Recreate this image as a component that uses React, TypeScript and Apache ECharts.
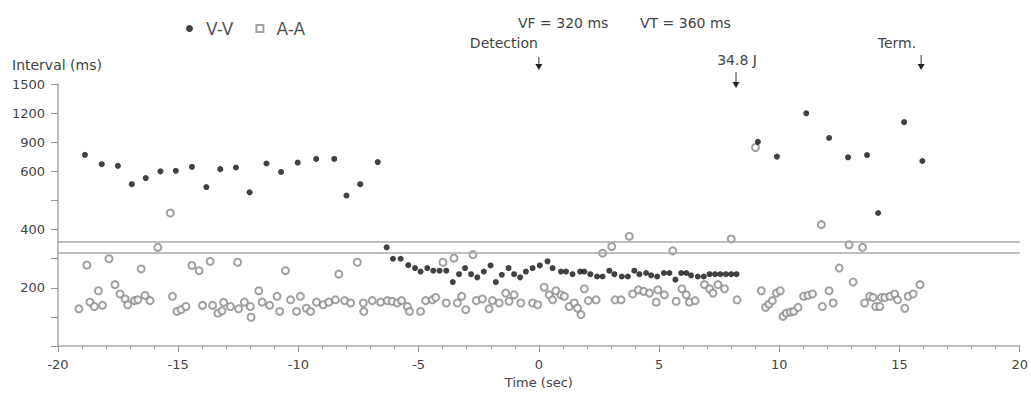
import React, { useEffect, useRef } from "react";
import * as echarts from "echarts";

// ---- Data ----
const vvTimes = [
  -18.88, -18.18, -17.51, -16.93, -16.35, -15.74, -15.1, -14.43, -13.83, -13.25,
  -12.6, -12.03, -11.33, -10.72, -10.03, -9.26, -8.51, -8.0, -7.43, -6.7,
  -6.33, -6.07, -5.75, -5.43, -5.15, -4.92, -4.64, -4.39, -4.13, -3.85,
  -3.58, -3.32, -3.07, -2.82, -2.56, -2.29, -2.01, -1.79, -1.54, -1.26,
  -1.03, -0.78, -0.54, -0.26, 0.04, 0.36, 0.57, 0.92, 1.13, 1.4,
  1.72, 1.89, 2.14, 2.42, 2.65, 2.93, 3.14, 3.45, 3.7, 3.97,
  4.18, 4.46, 4.67, 4.92, 5.2, 5.43, 5.68, 5.92, 6.13, 6.33,
  6.61, 6.86, 7.1, 7.33, 7.55, 7.78, 8.0, 8.22, 9.11, 9.9,
  11.12, 12.07, 12.86, 13.65, 14.11, 15.19, 15.95,
];
const vvValues = [
  770, 674, 657, 556, 577, 600, 606, 646, 546, 623,
  640, 528, 681, 598, 690, 728, 728, 517, 556, 696,
  339, 300, 300, 278, 268, 256, 268, 259, 259, 259,
  220, 247, 268, 247, 236, 256, 277, 220, 245, 268,
  247, 236, 256, 268, 277, 291, 268, 256, 256, 247,
  256, 256, 247, 239, 239, 259, 247, 239, 239, 259,
  247, 251, 243, 239, 251, 251, 228, 251, 251, 243,
  239, 239, 247, 247, 247, 247, 247, 247, 904, 752,
  1198, 944, 745, 768, 457, 1107, 707,
];

const aaTimes = [
  -19.13, -18.8, -18.67, -18.49, -18.32, -18.15, -17.88, -17.63, -17.42, -17.21,
  -17.1, -16.82, -16.68, -16.54, -16.38, -16.17, -15.85, -15.33, -15.24, -15.05,
  -14.88, -14.68, -14.43, -14.13, -13.99, -13.67, -13.57, -13.35, -13.18, -13.11,
  -12.83, -12.53, -12.49, -12.25, -12.0, -11.97, -11.65, -11.51, -11.2, -10.89,
  -10.78, -10.54, -10.33, -10.08, -9.92, -9.67, -9.5, -9.25, -8.97, -8.74,
  -8.46, -8.32, -8.08, -7.83, -7.55, -7.3, -7.28, -6.93, -6.58, -6.3,
  -6.1, -5.89, -5.71, -5.47, -5.38, -4.92, -4.71, -4.43, -4.29, -3.99,
  -3.85, -3.53, -3.39, -3.21, -3.04, -2.74, -2.6, -2.35, -2.07, -1.93,
  -1.65, -1.38, -1.24, -1.03, -0.75, -0.26, -0.05, 0.22, 0.43, 0.57,
  0.71, 0.92, 1.06, 1.26, 1.47, 1.61, 1.75, 1.89, 2.06, 2.38,
  2.65, 3.03, 3.17, 3.42, 3.76, 3.9, 4.14, 4.36, 4.6, 4.88,
  4.95, 5.22, 5.57, 5.71, 5.95, 6.13, 6.26, 6.5, 6.89, 7.1,
  7.24, 7.45, 7.72, 8.0, 8.24, 9.01, 9.25, 9.43, 9.57, 9.71,
  9.88, 10.04, 10.15, 10.29, 10.46, 10.6, 10.78, 11.01, 11.19, 11.38,
  11.75, 11.79, 12.07, 12.24, 12.49, 12.9, 13.07, 13.46, 13.55, 13.76,
  13.9, 14.01, 14.18, 14.25, 14.39, 14.6, 14.8, 14.92, 15.22, 15.36,
  15.57, 15.85,
];
const aaValues = [
  128, 278, 151, 136, 190, 140, 300, 211, 179, 162,
  142, 156, 159, 265, 174, 156, 339, 457, 171, 119,
  125, 136, 277, 259, 140, 291, 140, 113, 121, 150,
  136, 288, 128, 151, 136, 99, 190, 151, 140, 171,
  119, 259, 159, 119, 171, 130, 119, 151, 142, 151,
  159, 247, 156, 148, 288, 148, 119, 156, 151, 156,
  154, 148, 156, 136, 119, 119, 156, 159, 167, 288,
  148, 302, 148, 171, 125, 314, 156, 162, 128, 156,
  148, 182, 154, 176, 148, 148, 142, 202, 176, 159,
  190, 176, 171, 136, 148, 130, 108, 197, 156, 159,
  319, 342, 159, 159, 377, 179, 193, 188, 182, 151,
  193, 176, 327, 154, 197, 176, 151, 156, 211, 197,
  182, 211, 197, 368, 159, 846, 190, 133, 144, 156,
  182, 190, 102, 113, 117, 119, 133, 171, 174, 179,
  417, 136, 190, 148, 268, 348, 220, 339, 148, 171,
  167, 136, 136, 167, 167, 171, 179, 159, 130, 171,
  179, 211,
];

const yTickLabels = [200, 400, 600, 900, 1200, 1500];
const xTicks = { min: -20, max: 20, step: 5 };
const vfThreshold = 320;
const vtThreshold = 360;
const eventLabels = ["Detection", "34.8 J", "Term."];
const eventTimes = [0, 8.2, 15.9];

// ---- Broken (piecewise) interval scale ----
const BREAK = 600;
const HIGH_FACTOR = 3;
const toAxis = (v: number) => (v <= BREAK ? v : BREAK + (v - BREAK) / HIGH_FACTOR);
const fromAxis = (u: number) => (u <= BREAK ? u : BREAK + (u - BREAK) * HIGH_FACTOR);

const FONT = "DejaVu Sans";
const TEXT = "#444";
const AA_COLOR = "#8a8a8a";

// annotation layout (style only)
const eventLayout = [
  { align: "right", dx: -1, textY: 43, arrowTop: 57, arrowTip: 70 },
  { align: "center", dx: 1, textY: 60, arrowTop: 72, arrowTip: 88 },
  { align: "right", dx: -5, textY: 43, arrowTop: 55, arrowTip: 70 },
];

export default function App() {
  const ref = useRef<HTMLDivElement>(null);

  useEffect(() => {
    if (!ref.current) return;
    const chart = echarts.init(ref.current, undefined, { renderer: "svg" });

    const vvData = vvTimes.map((t, i) => [t, toAxis(vvValues[i])]);
    const aaData = aaTimes.map((t, i) => [t, toAxis(aaValues[i])]);
    const labelSet = new Set(yTickLabels.map((v) => Math.round(toAxis(v))));

    chart.setOption({
      animation: false,
      grid: { left: 58, right: 11, top: 84, bottom: 46, containLabel: false },
      legend: {
        left: 181,
        top: 15,
        itemWidth: 7,
        itemHeight: 7,
        itemGap: 22,
        textStyle: { fontFamily: FONT, fontSize: 17, color: "#555", padding: [0, 0, 0, 8] },
        data: [
          { name: "V-V", icon: "circle" },
          { name: "A-A", icon: "emptyRect" },
        ],
      },
      xAxis: {
        type: "value",
        min: xTicks.min,
        max: xTicks.max,
        interval: xTicks.step,
        name: "Time (sec)",
        nameLocation: "middle",
        nameGap: 27,
        nameTextStyle: { fontFamily: FONT, fontSize: 13, color: TEXT },
        axisLine: { show: true, onZero: false, lineStyle: { color: "#aaa", width: 1.5 } },
        axisTick: { show: true, length: 6, lineStyle: { color: "#999" } },
        minorTick: { show: true, splitNumber: 5, length: 3, lineStyle: { color: "#999" } },
        axisLabel: { fontFamily: FONT, fontSize: 13, color: TEXT, margin: 12 },
        splitLine: { show: false },
      },
      yAxis: {
        type: "value",
        min: 0,
        max: toAxis(1500),
        interval: 100,
        axisLine: { show: true, onZero: false, lineStyle: { color: "#aaa", width: 1.5 } },
        axisTick: { show: true, length: 7, lineStyle: { color: "#999" } },
        axisLabel: {
          fontFamily: FONT,
          fontSize: 13,
          color: TEXT,
          margin: 13,
          formatter: (u: number) => (labelSet.has(Math.round(u)) ? String(Math.round(fromAxis(u))) : ""),
        },
        splitLine: { show: false },
      },
      series: [
        {
          name: "A-A",
          type: "scatter",
          symbol: "emptyCircle",
          symbolSize: 7,
          itemStyle: { color: AA_COLOR, borderWidth: 1 },
          data: aaData,
          z: 2,
          markLine: {
            silent: true,
            symbol: "none",
            label: { show: false },
            lineStyle: { color: "#a8a8a8", width: 1.6, type: "solid" },
            data: [{ yAxis: toAxis(vtThreshold) }, { yAxis: toAxis(vfThreshold) }],
          },
        },
        {
          name: "V-V",
          type: "scatter",
          symbol: "circle",
          symbolSize: 6,
          itemStyle: { color: "#111" },
          data: vvData,
          z: 3,
        },
      ],
    });

    const graphics: any[] = [
      {
        type: "text",
        left: 12,
        top: 58,
        style: { text: "Interval (ms)", font: `14px "${FONT}"`, fill: TEXT },
      },
      {
        type: "text",
        x: 518,
        y: 23,
        style: { text: `VF = ${vfThreshold} ms`, font: `14px "${FONT}"`, fill: TEXT, verticalAlign: "middle" },
      },
      {
        type: "text",
        x: 640,
        y: 23,
        style: { text: `VT = ${vtThreshold} ms`, font: `14px "${FONT}"`, fill: TEXT, verticalAlign: "middle" },
      },
    ];

    eventTimes.forEach((t, i) => {
      const px = chart.convertToPixel({ xAxisIndex: 0 }, t) as number;
      const L = eventLayout[i];
      graphics.push({
        type: "text",
        x: px + L.dx,
        y: L.textY,
        style: {
          text: eventLabels[i],
          font: `14px "${FONT}"`,
          fill: TEXT,
          align: L.align,
          verticalAlign: "middle",
        },
      });
      graphics.push({
        type: "line",
        shape: { x1: px, y1: L.arrowTop, x2: px, y2: L.arrowTip - 4 },
        style: { stroke: "#333", lineWidth: 1 },
      });
      graphics.push({
        type: "polygon",
        shape: {
          points: [
            [px - 3.5, L.arrowTip - 6],
            [px + 3.5, L.arrowTip - 6],
            [px, L.arrowTip],
          ],
        },
        style: { fill: "#222" },
      });
    });

    chart.setOption({ graphic: graphics });

    return () => chart.dispose();
  }, []);

  return <div ref={ref} style={{ width: 1031, height: 394, position: "absolute", left: 0, top: 0 }} />;
}
